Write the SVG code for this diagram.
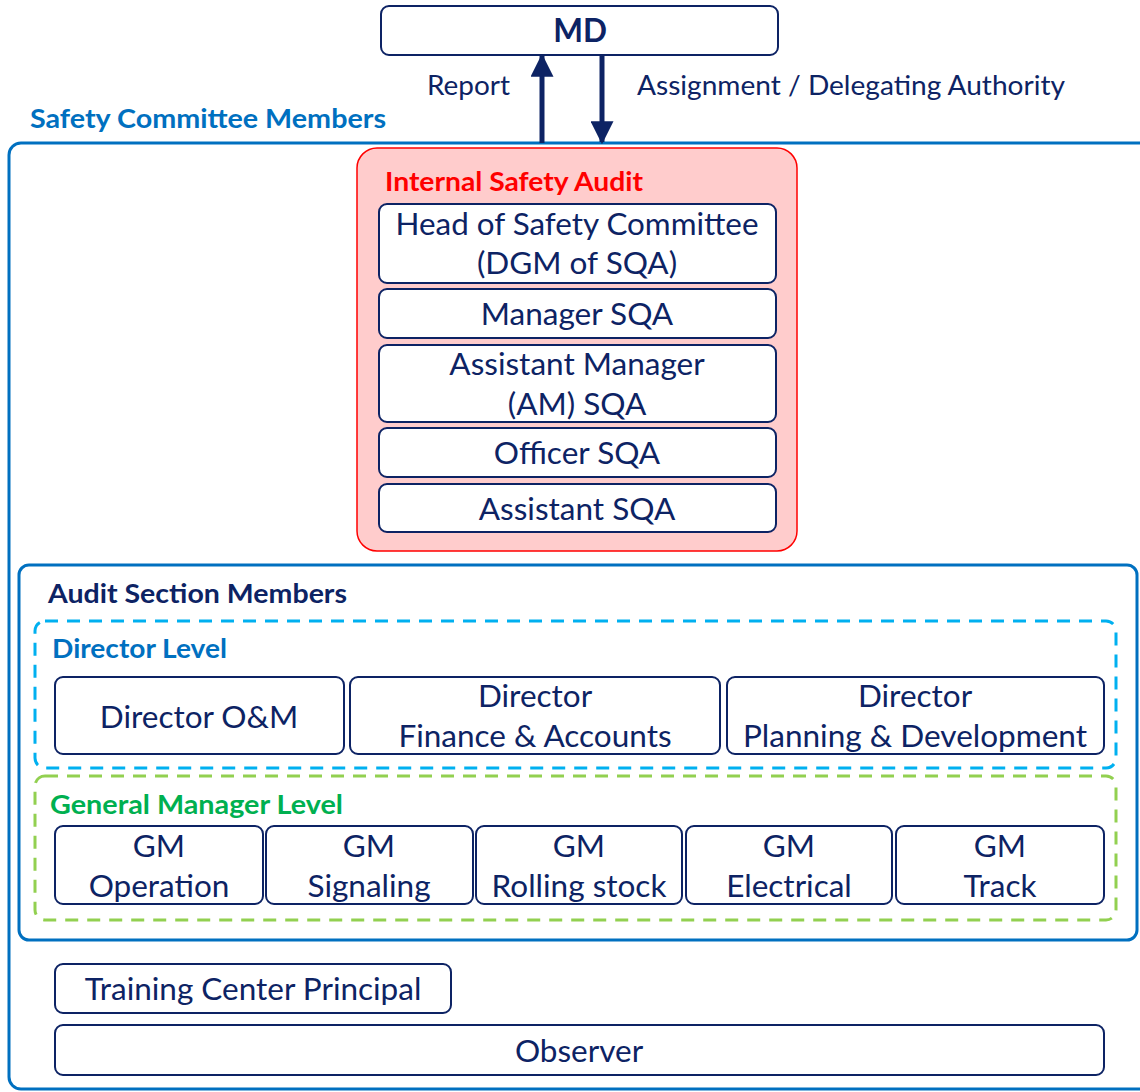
<svg xmlns="http://www.w3.org/2000/svg" width="1140" height="1092" viewBox="0 0 1140 1092">
<style>
.box{fill:#fff;stroke:#0d2364;stroke-width:2}
.t{font-family:Lato,"Open Sans","Liberation Sans",sans-serif;fill:#0d2364;text-anchor:middle;font-size:31.5px}
.lbl{font-family:Lato,"Open Sans","Liberation Sans",sans-serif;fill:#0d2364;font-size:27px}
.h{font-family:Lato,"Open Sans","Liberation Sans",sans-serif;font-weight:bold;font-size:27px}
.arrow{stroke:#0d2364;stroke-width:5;fill:none}
</style>
<defs>
<marker id="ah" viewBox="0 0 10 10" refX="9" refY="5" markerWidth="4.6" markerHeight="4.6" orient="auto" markerUnits="strokeWidth">
<path d="M0,0 L10,5 L0,10 Z" fill="#0d2364"/>
</marker>
</defs>
<rect width="1140" height="1092" fill="#fff"/>

<g id="safety-committee">
<rect x="9" y="143" width="1145" height="946" rx="12" fill="none" stroke="#0070c0" stroke-width="3"/>
<text class="h" x="30" y="128" fill="#0070c0" textLength="356" lengthAdjust="spacingAndGlyphs">Safety Committee Members</text>
</g>

<g id="md">
<rect class="box" x="381" y="6" width="397" height="49" rx="8"/>
<text class="t" x="580" y="42" font-weight="bold" font-size="29">MD</text>
</g>

<g id="connectors">
<line class="arrow" x1="542" y1="143" x2="542" y2="56" marker-end="url(#ah)"/>
<line class="arrow" x1="602" y1="55" x2="602" y2="142" marker-end="url(#ah)"/>
<text class="lbl" x="427" y="95" textLength="83" lengthAdjust="spacingAndGlyphs">Report</text>
<text class="lbl" x="637" y="95" textLength="428" lengthAdjust="spacingAndGlyphs">Assignment / Delegating Authority</text>
</g>

<g id="internal-safety-audit">
<rect x="357" y="148" width="440" height="403" rx="20" fill="#ffcccc" stroke="#ff0000" stroke-width="1.5"/>
<text class="h" x="385" y="191" fill="#ff0000" textLength="258" lengthAdjust="spacingAndGlyphs">Internal Safety Audit</text>
</g>

<g id="head-of-safety-committee">
<rect class="box" x="379" y="204" width="397" height="79" rx="8"/>
<text class="t" x="577" y="235" textLength="363" lengthAdjust="spacingAndGlyphs">Head of Safety Committee</text>
<text class="t" x="577" y="274">(DGM of SQA)</text>
</g>
<g id="manager-sqa">
<rect class="box" x="379" y="289" width="397" height="49" rx="8"/>
<text class="t" x="577" y="325">Manager SQA</text>
</g>
<g id="assistant-manager-sqa">
<rect class="box" x="379" y="345" width="397" height="77" rx="8"/>
<text class="t" x="577" y="375">Assistant Manager</text>
<text class="t" x="577" y="415">(AM) SQA</text>
</g>
<g id="officer-sqa">
<rect class="box" x="379" y="428" width="397" height="49" rx="8"/>
<text class="t" x="577" y="464">Officer SQA</text>
</g>
<g id="assistant-sqa">
<rect class="box" x="379" y="484" width="397" height="48" rx="8"/>
<text class="t" x="577" y="520">Assistant SQA</text>
</g>

<g id="audit-section-members">
<rect x="19" y="565" width="1118" height="375" rx="10" fill="none" stroke="#0070c0" stroke-width="3"/>
<text class="h" x="48" y="603" fill="#0d2364" textLength="299" lengthAdjust="spacingAndGlyphs">Audit Section Members</text>
</g>

<g id="director-level">
<rect x="35" y="621" width="1081" height="147" rx="10" fill="none" stroke="#00b0f0" stroke-width="3" stroke-dasharray="13,9"/>
<text class="h" x="52" y="658" fill="#0070c0" textLength="175" lengthAdjust="spacingAndGlyphs">Director Level</text>
</g>
<g id="director-om">
<rect class="box" x="55" y="677" width="289" height="77" rx="8"/>
<text class="t" x="199" y="728">Director O&amp;M</text>
</g>
<g id="director-finance">
<rect class="box" x="350" y="677" width="370" height="77" rx="8"/>
<text class="t" x="535" y="707">Director</text>
<text class="t" x="535" y="747">Finance &amp; Accounts</text>
</g>
<g id="director-planning">
<rect class="box" x="727" y="677" width="377" height="77" rx="8"/>
<text class="t" x="915" y="707">Director</text>
<text class="t" x="915" y="747" textLength="344" lengthAdjust="spacingAndGlyphs">Planning &amp; Development</text>
</g>

<g id="gm-level">
<rect x="35" y="776" width="1081" height="144" rx="10" fill="none" stroke="#92d050" stroke-width="3" stroke-dasharray="13,9"/>
<text class="h" x="50" y="814" fill="#00b050" textLength="293" lengthAdjust="spacingAndGlyphs">General Manager Level</text>
</g>
<g id="gm-operation">
<rect class="box" x="55" y="826" width="208" height="78" rx="8"/>
<text class="t" x="159" y="857">GM</text>
<text class="t" x="159" y="897">Operation</text>
</g>
<g id="gm-signaling">
<rect class="box" x="266" y="826" width="207" height="78" rx="8"/>
<text class="t" x="369" y="857">GM</text>
<text class="t" x="369" y="897">Signaling</text>
</g>
<g id="gm-rolling-stock">
<rect class="box" x="476" y="826" width="206" height="78" rx="8"/>
<text class="t" x="579" y="857">GM</text>
<text class="t" x="579" y="897">Rolling stock</text>
</g>
<g id="gm-electrical">
<rect class="box" x="686" y="826" width="206" height="78" rx="8"/>
<text class="t" x="789" y="857">GM</text>
<text class="t" x="789" y="897">Electrical</text>
</g>
<g id="gm-track">
<rect class="box" x="896" y="826" width="208" height="78" rx="8"/>
<text class="t" x="1000" y="857">GM</text>
<text class="t" x="1000" y="897">Track</text>
</g>

<g id="training-center-principal">
<rect class="box" x="55" y="964" width="396" height="49" rx="8"/>
<text class="t" x="253" y="1000">Training Center Principal</text>
</g>
<g id="observer">
<rect class="box" x="55" y="1025" width="1049" height="50" rx="8"/>
<text class="t" x="579" y="1062">Observer</text>
</g>
</svg>
